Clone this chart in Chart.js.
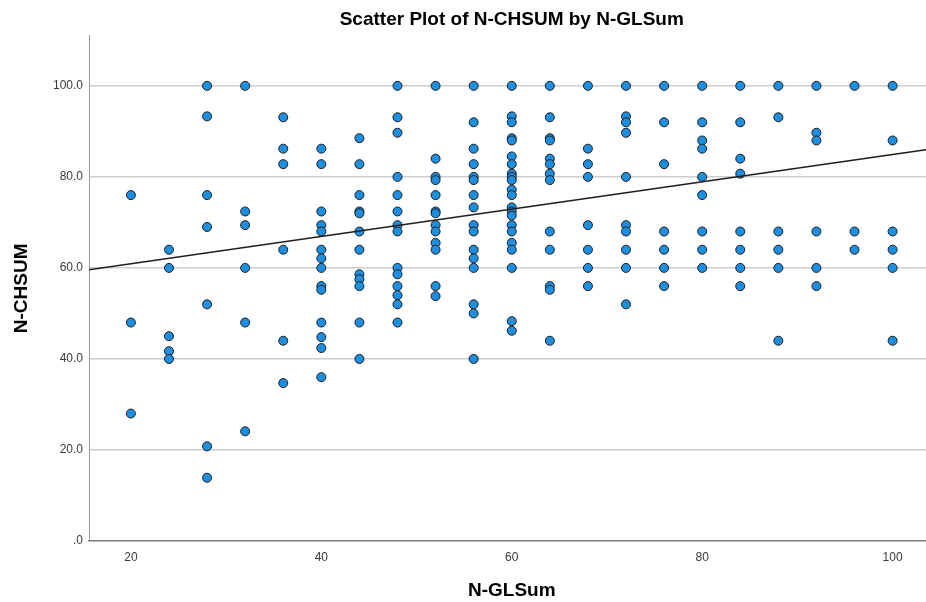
<!DOCTYPE html>
<html>
<head>
<meta charset="utf-8">
<title>Scatter Plot of N-CHSUM by N-GLSum</title>
<script src="https://cdn.jsdelivr.net/npm/chart.js@4.4.1/dist/chart.umd.min.js"></script>
<style>
  html, body { margin: 0; padding: 0; background: #fff; overflow: hidden; }
  #wrap { width: 940px; height: 602px; }
</style>
</head>
<body>
<div id="wrap"><canvas id="chart" width="940" height="602"></canvas></div>
<script>
// N-GLSum levels (x) and the N-CHSUM values seen at each level (y)
const glSumLevels = [20, 24, 28, 32, 36, 40, 44, 48, 52, 56, 60, 64, 68, 72, 76, 80, 84, 88, 92, 96, 100];
const chSumValues = [
  [76, 48, 28],
  [64, 60, 45, 41.7, 40],
  [100, 93.3, 76, 69, 52, 20.8, 13.9],
  [100, 72.4, 69.4, 60, 48, 24.1],
  [93.1, 86.2, 82.8, 64, 44, 34.7],
  [86.2, 82.8, 72.4, 69.4, 68, 64, 62.1, 60, 56, 55.2, 48, 44.8, 42.4, 36],
  [88.5, 82.8, 76, 72.4, 72, 68, 64, 58.6, 57.5, 56, 48, 40],
  [100, 93.1, 89.7, 80, 76, 72.4, 69.4, 68, 60, 58.6, 56, 54, 52, 48],
  [100, 84, 80, 79.3, 76, 72.4, 72, 69.4, 68, 65.5, 64, 56, 53.8],
  [100, 92, 86.2, 82.8, 80, 79.3, 76, 73.3, 69.4, 68, 64, 62.1, 60, 52, 50, 40],
  [100, 93.3, 92, 88.5, 88, 84.5, 82.8, 80.7, 80, 79.3, 77.2, 76, 73.3, 72.4, 71.5, 69.4, 68, 65.5, 64, 60, 48.3, 46.2],
  [100, 93.1, 88.5, 88, 84, 82.8, 80.7, 79.3, 68, 64, 56, 55.2, 44],
  [100, 86.2, 82.8, 80, 69.4, 64, 60, 56],
  [100, 93.3, 92, 89.7, 80, 69.4, 68, 64, 60, 52],
  [100, 92, 82.8, 68, 64, 60, 56],
  [100, 92, 88, 86.2, 80, 76, 68, 64, 60],
  [100, 92, 84, 80.7, 68, 64, 60, 56],
  [100, 93.1, 68, 64, 60, 44],
  [100, 89.7, 88, 68, 60, 56],
  [100, 68, 64],
  [100, 88, 68, 64, 60, 44]
];

// axis ticks
const xTicks = [20, 40, 60, 80, 100];
const yTicks = [0, 20, 40, 60, 80, 100];
const xMin = 15.6, xMax = 104.4;
const yMin = 0, yMax = 111;

// linear fit line
const fitIntercept = 54.9;
const fitSlope = 0.30;

const points = [];
glSumLevels.forEach((gl, i) => {
  chSumValues[i].forEach(ch => points.push({ x: gl, y: ch }));
});
const fitLine = [xMin, xMax].map(x => ({ x: x, y: fitIntercept + fitSlope * x }));

const fontFamily = '"Liberation Sans", Arial, sans-serif';

new Chart(document.getElementById('chart').getContext('2d'), {
  type: 'scatter',
  data: {
    datasets: [
      {
        type: 'line',
        data: fitLine,
        borderColor: '#1e1e1e',
        borderWidth: 1.6,
        pointRadius: 0,
        fill: false,
        order: 0
      },
      {
        data: points,
        backgroundColor: 'rgb(28,143,224)',
        borderColor: '#1c1c1c',
        borderWidth: 1,
        pointRadius: 4.5,
        order: 1
      }
    ]
  },
  options: {
    responsive: false,
    animation: false,
    events: [],
    layout: { padding: { left: 0, top: 0, right: 4, bottom: 0 } },
    plugins: {
      legend: { display: false },
      tooltip: { enabled: false },
      title: {
        display: true,
        fullSize: false,
        text: 'Scatter Plot of N-CHSUM by N-GLSum',
        color: '#000',
        font: { family: fontFamily, size: 19, weight: 'bold' },
        padding: { top: 8, bottom: 5 }
      }
    },
    scales: {
      x: {
        type: 'linear',
        min: xMin,
        max: xMax,
        afterBuildTicks: axis => { axis.ticks = xTicks.map(v => ({ value: v })); },
        afterFit: axis => { axis.height = 61; },
        grid: { display: false, drawTicks: false },
        border: { display: true, color: '#7a7a7a', width: 1.6 },
        ticks: {
          color: '#3a3a3a',
          padding: 9,
          maxRotation: 0,
          font: { family: fontFamily, size: 12 }
        },
        title: {
          display: true,
          text: 'N-GLSum',
          color: '#000',
          font: { family: fontFamily, size: 19, weight: 'bold' },
          padding: { top: 0, bottom: 0 }
        }
      },
      y: {
        type: 'linear',
        min: yMin,
        max: yMax,
        afterBuildTicks: axis => { axis.ticks = yTicks.map(v => ({ value: v })); },
        afterFit: axis => { axis.width = 89; },
        grid: {
          drawTicks: false,
          lineWidth: 1.5,
          color: ctx => ctx.tick && ctx.tick.value === 0 ? 'rgba(0,0,0,0)' : '#cdcdcd'
        },
        border: { display: true, color: '#9a9a9a', width: 1 },
        ticks: {
          color: '#3a3a3a',
          padding: 6,
          font: { family: fontFamily, size: 12 },
          callback: v => v === 0 ? '.0' : v.toFixed(1)
        },
        title: {
          display: true,
          text: 'N-CHSUM',
          color: '#000',
          font: { family: fontFamily, size: 19, weight: 'bold' },
          padding: { top: 10, bottom: 0 }
        }
      }
    }
  }
});
</script>
</body>
</html>
